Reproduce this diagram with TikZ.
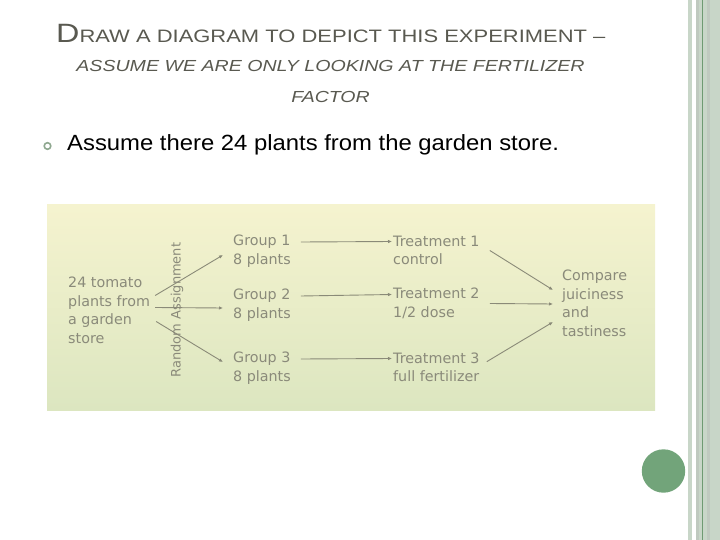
\documentclass[tikz,border=0pt]{standalone}
\usepackage{graphicx}
\usepackage{fontspec}
\setmainfont{Liberation Sans}
\newfontfamily\handfont{DejaVu Sans}
\usetikzlibrary{arrows.meta,calc}

\definecolor{titlegray}{HTML}{595950}
\definecolor{ink}{HTML}{8A8A7A}
\definecolor{inkline}{HTML}{8A8A78}
\definecolor{paleyellow}{HTML}{F5F3CF}
\definecolor{palegreen}{HTML}{DCE6C0}
\definecolor{stripe}{HTML}{C8D6C8}
\definecolor{stripegray}{HTML}{BFC9BF}
\definecolor{stripedark}{HTML}{6E9A72}
\definecolor{dotgreen}{HTML}{72A47A}
\definecolor{bulletgreen}{HTML}{8FA890}

\begin{document}
\begin{tikzpicture}[x=1pt,y=-1pt,
  hand/.style={font=\handfont\fontsize{14.3}{18.5}\selectfont, text=ink, inner sep=0pt, anchor=west, align=left},
  link/.style={draw=inkline, line width=0.9pt, -{Latex[length=4pt,width=3.5pt]}}]

 \useasboundingbox (0,0) rectangle (720,540);

% Right border
 \fill[stripe] (688,0) rectangle (692,540);
 \fill[stripe] (696,0) rectangle (720,540);
 \fill[stripegray] (696,0) rectangle (699,540);
 \fill[stripegray] (707,0) rectangle (710,540);
 \fill[stripedark] (702,0) rectangle (703.2,540);
 \fill[dotgreen] (663.5,471) circle (21.7);

% Title
 \node[anchor=base west, inner sep=0pt, text=titlegray] (title) at (56,43)
   {\scalebox{1.22}[1]{{\fontsize{26.5}{30}\selectfont D}{\fontsize{18}{22}\selectfont RAW A DIAGRAM TO DEPICT THIS EXPERIMENT --}}};
 \node[anchor=base, inner sep=0pt, text=titlegray, font=\fontsize{16}{20}\selectfont\itshape] (sub) at (330.5,72)
   {\scalebox{1.225}[1]{ASSUME WE ARE ONLY LOOKING AT THE FERTILIZER}};
 \node[anchor=base, inner sep=0pt, text=titlegray, font=\fontsize{16}{20}\selectfont\itshape] (factor) at (330.5,103)
   {\scalebox{1.22}[1]{FACTOR}};

% Bullet
 \draw[bulletgreen, line width=1.6pt] (47.5,146) circle (3.3);
 \node[anchor=base west, inner sep=0pt, font=\fontsize{22}{26}\selectfont] (point) at (67,151)
   {\scalebox{1.084}[1]{Assume there 24 plants from the garden store.}};

% Panel
 \shade[top color=paleyellow, bottom color=palegreen] (47,205) rectangle (655,410);

 \node[hand] (src) at (68,310.5) {24 tomato\\plants from\\a garden\\store};
 \node[hand, font=\handfont\fontsize{13}{16}\selectfont, rotate=90, anchor=center] (rand) at (177,310) {Random Assignment};

 \node[hand] (g1) at (233,251) {Group 1\\8 plants};
 \node[hand] (g2) at (233,305) {Group 2\\8 plants};
 \node[hand] (g3) at (233,368) {Group 3\\8 plants};

 \node[hand] (t1) at (393,250.5) {Treatment 1\\control};
 \node[hand] (t2) at (393,303.5) {Treatment 2\\1/2 dose};
 \node[hand] (t3) at (393,367.5) {Treatment 3\\full fertilizer};

 \node[hand] (cmp) at (562,303.5) {Compare\\juiciness\\and\\tastiness};

% Arrows
 \draw[link] ($(src.east)+(5,-15)$) -- ($(g1.west)+(-10,4)$);
 \draw[link] ($(src.east)+(5,-3)$) -- ($(g2.west)+(-10,3)$);
 \draw[link] ($(src.east)+(6,11)$) -- ($(g3.west)+(-10,-6)$);

 \draw[link] ($(g1.east)+(10,-9)$) -- ($(t1.west)+(-1,-9)$);
 \draw[link] ($(g2.east)+(10,-9)$) -- ($(t2.west)+(-1,-9)$);
 \draw[link] ($(g3.east)+(10,-9)$) -- ($(t3.west)+(-1,-9)$);

 \draw[link] ($(t1.east)+(10,0)$) -- ($(cmp.west)+(-9,-13.5)$);
 \draw[link] ($(t2.east)+(10,0)$) -- ($(cmp.west)+(-9,0.5)$);
 \draw[link] ($(t3.north east)+(7,9)$) -- ($(cmp.west)+(-9,18.5)$);

\end{tikzpicture}
\end{document}
